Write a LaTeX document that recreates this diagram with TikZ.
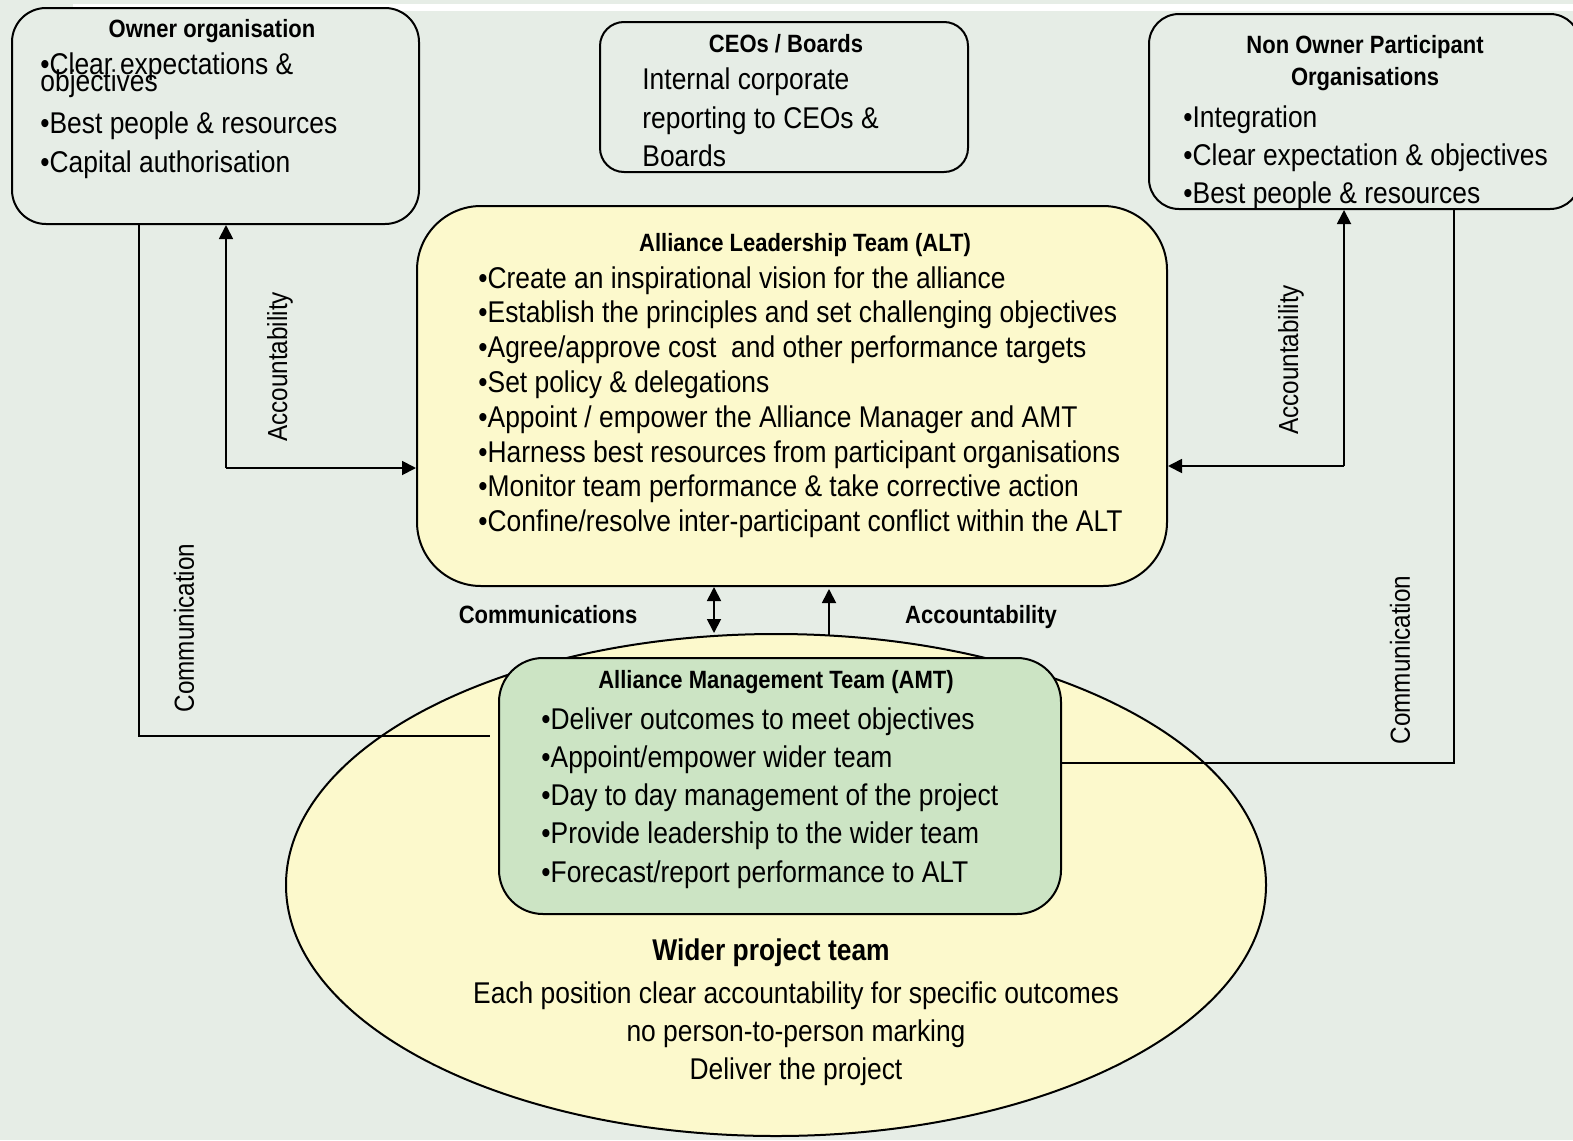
\documentclass[tikz,border=0pt]{standalone}
\usepackage{fontspec}
\setmainfont[FakeStretch=0.88]{Liberation Sans}
\usetikzlibrary{arrows.meta, positioning, shapes.geometric}
\usepackage{xcolor}
\definecolor{bgcol}{RGB}{230,237,230}
\definecolor{altcol}{RGB}{252,249,204}
\definecolor{amtcol}{RGB}{204,228,196}

\tikzset{
  orgbox/.style={draw, line width=1pt, fill=bgcol, inner sep=0pt},
  title/.style={font=\bfseries\fontsize{12.5}{14}\selectfont, anchor=base, inner sep=0pt},
  item/.style={font=\fontsize{15}{17}\selectfont, anchor=base west, inner sep=0pt},
  line/.style={line width=0.9pt},
  sidelabel/.style={font=\fontsize{13.8}{15}\selectfont, rotate=90, inner sep=0pt},
  midlabel/.style={font=\bfseries\fontsize{12.5}{14}\selectfont, inner sep=0pt}
}

\begin{document}
\begin{tikzpicture}[x=0.5pt, y=-0.5pt, >={Triangle[length=7pt, width=7pt]}]
  % background
  \fill[bgcol] (0,0) rectangle (1573,1140);
  \fill[white] (73,4) rectangle (1573,11);
  \useasboundingbox (0,0) rectangle (1573,1140);

  % top boxes
  \node[orgbox, rounded corners=17pt, minimum width=203.5pt, minimum height=108pt] (owner) at (215.5,116) {};
  \node[orgbox, rounded corners=12pt, minimum width=184pt, minimum height=75pt] (ceo) at (784,97) {};
  \node[orgbox, rounded corners=15pt, minimum width=215.5pt, minimum height=97.5pt] (nonowner) at (1364.5,111.5) {};

  \node[title] (ownertitle) at (212,37) {Owner organisation};
  \node[item] (owner1) at (40,74) {•Clear expectations \&};
  \node[item] (owner1b) at (40,91) {objectives};
  \node[item] (owner2) at (40,133) {•Best people \& resources};
  \node[item] (owner3) at (40,172) {•Capital authorisation};

  \node[title] (ceotitle) at (786,52) {CEOs / Boards};
  \node[item] (ceo1) at (642,89) {Internal corporate};
  \node[item] (ceo2) at (642,128) {reporting to CEOs \&};
  \node[item] (ceo3) at (642,166) {Boards};

  \node[title] (nonownertitle) at (1365,53) {Non Owner Participant};
  \node[title] (nonownertitleb) at (1365,85) {Organisations};
  \node[item] (nonowner1) at (1183,127) {•Integration};
  \node[item] (nonowner2) at (1183,165) {•Clear expectation \& objectives};
  \node[item] (nonowner3) at (1183,203) {•Best people \& resources};

  % ALT
  \node[orgbox, fill=altcol, rounded corners=32pt, minimum width=375pt, minimum height=190pt] (alt) at (792,396) {};
  \node[title] (alttitle) at (805,251) {Alliance Leadership Team (ALT)};
  \foreach \t [count=\i] in {
      •Create an inspirational vision for the alliance,
      •Establish the principles and set challenging objectives,
      •Agree/approve cost\ \ and other performance targets,
      •Set policy \& delegations,
      •Appoint / empower the Alliance Manager and AMT,
      •Harness best resources from participant organisations,
      •Monitor team performance \& take corrective action,
      •Confine/resolve inter-participant conflict within the ALT}
    \node[item] (alt-\i) at (478,{288+34.8*(\i-1)}) {\t};

  % wider team and AMT
  \node[draw, line width=1pt, fill=altcol, ellipse, inner sep=0pt, minimum width=490pt, minimum height=251pt] (wider) at (776,885) {};
  \node[orgbox, fill=amtcol, rounded corners=22pt, minimum width=281pt, minimum height=128pt] (amt) at (780,786) {};
  \node[title] (amttitle) at (776,688) {Alliance Management Team (AMT)};
  \foreach \t [count=\i] in {
      •Deliver outcomes to meet objectives,
      •Appoint/empower wider team,
      •Day to day management of the project,
      •Provide leadership to the wider team,
      •Forecast/report performance to ALT}
    \node[item] (amt-\i) at (541,{729+38.3*(\i-1)}) {\t};

  \node[title, font=\bfseries\fontsize{15}{17}\selectfont] (widertitle) at (771,960) {Wider project team};
  \node[item, anchor=base] (wider1) at (796,1003) {Each position clear accountability for specific outcomes};
  \node[item, anchor=base] (wider2) at (796,1041) {no person-to-person marking};
  \node[item, anchor=base] (wider3) at (796,1079) {Deliver the project};

  % accountability arrows
  \coordinate (accL) at (226,468);
  \coordinate (accR) at (1344,466);
  \draw[line, ->] (accL) -- (owner.south -| accL);
  \draw[line, ->] (accL) -- (alt.west |- accL);
  \draw[line, ->] (accR) -- (nonowner.south -| accR);
  \draw[line, ->] (accR) -- (alt.east |- accR);
  \node[sidelabel] (accLlabel) at (280,367) {Accountability};
  \node[sidelabel] (accRlabel) at (1291,360) {Accountability};

  % communication lines
  \coordinate (comL) at (139,736);
  \coordinate (comR) at (1454,763);
  \draw[line] (owner.south -| comL) -- (comL) -- ([xshift=-4pt]amt.west |- comL);
  \draw[line] (nonowner.south -| comR) -- (comR) -- (amt.east |- comR);
  \node[sidelabel] (comLlabel) at (184,628) {Communication};
  \node[sidelabel] (comRlabel) at (1400,660) {Communication};

  % ALT <-> AMT
  \coordinate (commid) at (714,0);
  \coordinate (accmid) at (829,0);
  \draw[line, <->] (alt.south -| commid) -- (wider.north -| commid);
  \draw[line, ->] ([yshift=-1pt]wider.north -| accmid) -- ([yshift=-1pt]alt.south -| accmid);
  \node[midlabel] (commidlabel) at (548,615) {Communications};
  \node[midlabel] (accmidlabel) at (981,617) {Accountability};
\end{tikzpicture}
\end{document}
